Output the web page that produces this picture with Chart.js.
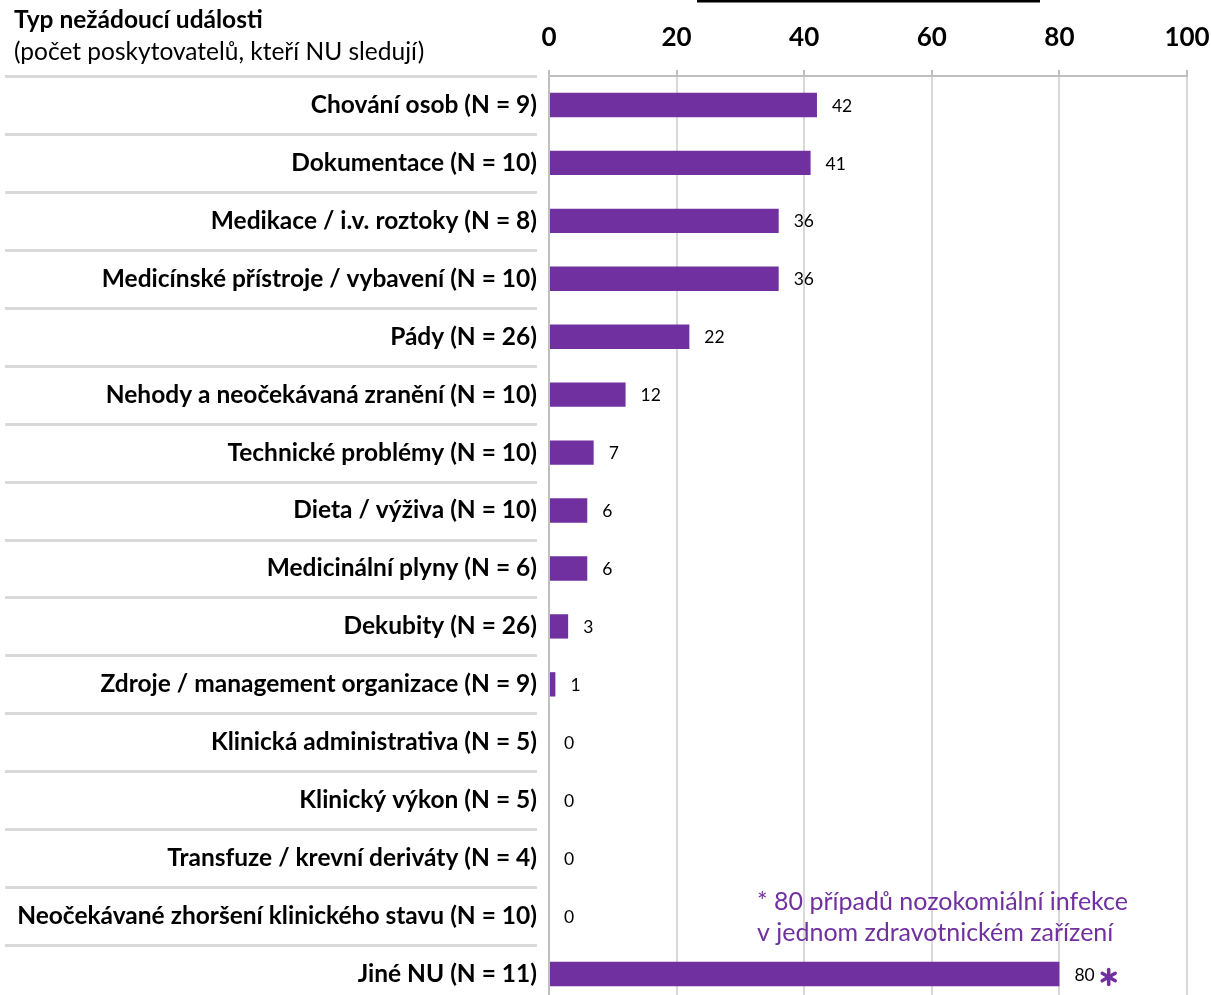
<!DOCTYPE html>
<html>
<head>
<meta charset="utf-8">
<script src="https://cdn.jsdelivr.net/npm/chart.js@4"></script>
<style>
  html, body { margin: 0; padding: 0; background: #fff; overflow: hidden; }
  #wrap { width: 1211px; height: 1003px; }
</style>
</head>
<body>
<div id="wrap"><canvas id="chart" width="1211" height="1003"></canvas></div>
<script>
// category labels (top to bottom) and event counts
const categories = [
  'Chování osob (N = 9)',
  'Dokumentace (N = 10)',
  'Medikace / i.v. roztoky (N = 8)',
  'Medicínské přístroje / vybavení (N = 10)',
  'Pády (N = 26)',
  'Nehody a neočekávaná zranění (N = 10)',
  'Technické problémy (N = 10)',
  'Dieta / výživa (N = 10)',
  'Medicinální plyny (N = 6)',
  'Dekubity (N = 26)',
  'Zdroje / management organizace (N = 9)',
  'Klinická administrativa (N = 5)',
  'Klinický výkon (N = 5)',
  'Transfuze / krevní deriváty (N = 4)',
  'Neočekávané zhoršení klinického stavu (N = 10)',
  'Jiné NU (N = 11)'
];
const counts = [42, 41, 36, 36, 22, 12, 7, 6, 6, 3, 1, 0, 0, 0, 0, 80];
const xTicks = [0, 20, 40, 60, 80, 100];

const headerTitle = 'Typ nežádoucí události';
const headerSub = '(počet poskytovatelů, kteří NU sledují)';
const footnoteIndex = 15;
const footnoteLines = ['* 80 případů nozokomiální infekce', 'v jednom zdravotnickém zařízení'];

const purple = '#7030A0';
const FONT = 'Lato, "Open Sans", sans-serif';

const extras = {
  id: 'extras',
  beforeDatasetsDraw(chart) {
    const ctx = chart.ctx;
    const y = chart.scales.y;
    const half = (y.getPixelForValue(1) - y.getPixelForValue(0)) / 2;
    ctx.save();
    ctx.strokeStyle = '#d9d9d9';
    ctx.lineWidth = 3;
    for (let i = 0; i < categories.length; i++) {
      const py = Math.round(y.getPixelForValue(i) - half) + 0.5;
      ctx.beginPath();
      ctx.moveTo(5, py);
      ctx.lineTo(537, py);
      ctx.stroke();
    }
    ctx.restore();
  },
  afterDatasetsDraw(chart) {
    const ctx = chart.ctx;
    const xs = chart.scales.x;
    const ys = chart.scales.y;
    const meta = chart.getDatasetMeta(0);
    ctx.save();
    ctx.textBaseline = 'middle';
    ctx.textAlign = 'left';
    meta.data.forEach((bar, i) => {
      ctx.font = '17.5px ' + FONT;
      ctx.fillStyle = '#000';
      const txt = String(counts[i]);
      ctx.fillText(txt, bar.x + 15, bar.y + 1);
      if (i === footnoteIndex) {
        // big purple asterisk after the value
        const w = ctx.measureText(txt).width;
        const cx = bar.x + 15 + w + 14;
        const cy = bar.y + 3;
        ctx.strokeStyle = purple;
        ctx.lineWidth = 3.5;
        ctx.lineCap = 'round';
        for (const a of [90, 30, 150]) {
          const r = a * Math.PI / 180;
          ctx.beginPath();
          ctx.moveTo(cx - 7.5 * Math.cos(r), cy - 7.5 * Math.sin(r));
          ctx.lineTo(cx + 7.5 * Math.cos(r), cy + 7.5 * Math.sin(r));
          ctx.stroke();
        }
      }
    });
    // footnote
    ctx.font = '25px ' + FONT;
    ctx.fillStyle = purple;
    const fx = xs.getPixelForValue(32.6);
    const fy = ys.getPixelForValue(footnoteIndex - 1);
    ctx.fillText(footnoteLines[0], fx, fy - 14);
    ctx.fillText(footnoteLines[1], fx, fy + 17);
    // header
    ctx.fillStyle = '#000';
    ctx.font = 'bold 24.5px ' + FONT;
    ctx.fillText(headerTitle, 14, 20);
    ctx.font = '24.5px ' + FONT;
    ctx.fillText(headerSub, 14, 52);
    // clipped title underline at top
    ctx.strokeStyle = '#000';
    ctx.lineWidth = 3;
    ctx.lineCap = 'butt';
    ctx.beginPath();
    ctx.moveTo(697, 1);
    ctx.lineTo(1040, 1);
    ctx.stroke();
    ctx.restore();
  }
};

new Chart(document.getElementById('chart'), {
  type: 'bar',
  data: {
    labels: categories,
    datasets: [{
      data: counts,
      backgroundColor: purple,
      borderWidth: 0,
      barPercentage: 0.42,
      categoryPercentage: 1
    }]
  },
  options: {
    indexAxis: 'y',
    responsive: false,
    animation: false,
    layout: { padding: { left: 0, right: 24, top: 0, bottom: 0 } },
    plugins: { legend: { display: false }, tooltip: { enabled: false } },
    scales: {
      x: {
        position: 'top',
        min: 0,
        max: 100,
        afterBuildTicks(scale) { scale.ticks = xTicks.map(v => ({ value: v })); },
        afterFit(scale) { scale.height = 76; scale.paddingLeft = 0; scale.paddingRight = 0; },
        ticks: { color: '#000', font: { family: FONT, size: 26, weight: 'bold' }, padding: 17, maxRotation: 0 },
        grid: { color: '#d9d9d9', lineWidth: 2, tickLength: 6, tickColor: '#bfbfbf' },
        border: { color: '#bfbfbf', width: 2 }
      },
      y: {
        afterFit(scale) { scale.width = 549; scale.paddingTop = 0; scale.paddingBottom = 0; },
        ticks: { color: '#000', font: { family: FONT, size: 24.5, weight: 'bold' }, padding: 12, autoSkip: false },
        grid: { display: false, drawTicks: false },
        border: { color: '#bfbfbf', width: 2 }
      }
    }
  },
  plugins: [extras]
});
</script>
</body>
</html>
